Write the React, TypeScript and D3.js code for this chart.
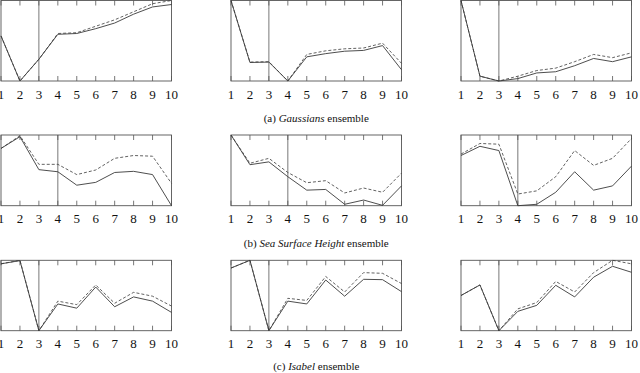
import React from "react";
import * as d3 from "d3";

const xTicks = [1, 2, 3, 4, 5, 6, 7, 8, 9, 10];

// Row (a) Gaussians
const gaussA_solid = [0.56, 0.0, 0.27, 0.58, 0.59, 0.65, 0.72, 0.83, 0.92, 0.95];
const gaussA_dashed = [0.56, 0.0, 0.27, 0.59, 0.6, 0.68, 0.76, 0.86, 0.96, 1.0];
const gaussB_solid = [1.0, 0.23, 0.235, 0.0, 0.3, 0.34, 0.37, 0.38, 0.44, 0.14];
const gaussB_dashed = [1.0, 0.235, 0.24, 0.0, 0.33, 0.375, 0.4, 0.41, 0.47, 0.22];
const gaussC_solid = [1.0, 0.06, 0.0, 0.03, 0.1, 0.115, 0.19, 0.28, 0.24, 0.3];
const gaussC_dashed = [1.0, 0.06, 0.0, 0.06, 0.13, 0.16, 0.24, 0.33, 0.29, 0.35];

// Row (b) Sea Surface Height
const sshA_solid = [0.81, 0.976, 0.51, 0.48, 0.29, 0.33, 0.47, 0.486, 0.44, 0.0];
const sshA_dashed = [0.81, 0.99, 0.585, 0.585, 0.44, 0.505, 0.67, 0.71, 0.7, 0.316];
const sshB_solid = [1.0, 0.58, 0.62, 0.41, 0.22, 0.23, 0.02, 0.08, 0.005, 0.28];
const sshB_dashed = [1.0, 0.6, 0.67, 0.47, 0.325, 0.354, 0.18, 0.25, 0.19, 0.46];
const sshC_solid = [0.71, 0.84, 0.78, 0.0, 0.02, 0.19, 0.48, 0.22, 0.28, 0.56];
const sshC_dashed = [0.73, 0.88, 0.87, 0.165, 0.21, 0.41, 0.78, 0.57, 0.67, 0.95];

// Row (c) Isabel
const isaA_solid = [0.95, 0.995, 0.0, 0.38, 0.32, 0.62, 0.34, 0.48, 0.42, 0.26];
const isaA_dashed = [0.95, 1.0, 0.0, 0.42, 0.37, 0.65, 0.39, 0.545, 0.49, 0.35];
const isaB_solid = [0.89, 1.0, 0.0, 0.42, 0.38, 0.72, 0.49, 0.73, 0.725, 0.555];
const isaB_dashed = [0.89, 1.0, 0.0, 0.46, 0.43, 0.77, 0.55, 0.825, 0.815, 0.67];
const isaC_solid = [0.5, 0.65, 0.0, 0.275, 0.36, 0.645, 0.48, 0.76, 0.915, 0.83];
const isaC_dashed = [0.5, 0.65, 0.0, 0.31, 0.4, 0.7, 0.55, 0.825, 1.0, 0.95];

const rowMarkers = [3, 4, 3];
const rowCaptionLabels = ["(a) ", "(b) ", "(c) "];
const rowCaptionItalic = ["Gaussians", "Sea Surface Height", "Isabel"];

const rows = [
  [
    [gaussA_solid, gaussA_dashed],
    [gaussB_solid, gaussB_dashed],
    [gaussC_solid, gaussC_dashed],
  ],
  [
    [sshA_solid, sshA_dashed],
    [sshB_solid, sshB_dashed],
    [sshC_solid, sshC_dashed],
  ],
  [
    [isaA_solid, isaA_dashed],
    [isaB_solid, isaB_dashed],
    [isaC_solid, isaC_dashed],
  ],
];

// layout
const panelLefts = [1, 231, 461];
const panelWidth = 170.5;
const rowTops = [0.5, 135, 260.3];
const rowBottoms = [81, 205.7, 330.7];
const rowLabelY = [98.8, 222.5, 348.2];
const rowCaptionY = [121.8, 246.8, 369.8];

const lineColor = "#3a3a3a";
const frameColor = "#555";
const serif = "Liberation Serif, DejaVu Serif, serif";

function Panel({ left, top, bottom, solid, dashed, marker, labelY }: any) {
  const x = d3.scaleLinear().domain([1, 10]).range([left, left + panelWidth]);
  const y = d3.scaleLinear().domain([0, 1]).range([bottom, top]);
  const line = d3
    .line<number>()
    .x((_, i) => x(xTicks[i]))
    .y((d) => y(d));
  const tickLen = 5;
  return (
    <g>
      <rect
        x={left}
        y={top}
        width={panelWidth}
        height={bottom - top}
        fill="none"
        stroke={frameColor}
        strokeWidth={0.9}
      />
      {xTicks.map((t) => (
        <g key={t}>
          <line x1={x(t)} x2={x(t)} y1={top} y2={top + tickLen} stroke={frameColor} strokeWidth={0.8} />
          <line x1={x(t)} x2={x(t)} y1={bottom} y2={bottom - tickLen} stroke={frameColor} strokeWidth={0.8} />
          <text
            x={x(t)}
            y={labelY}
            textAnchor="middle"
            style={{ fontFamily: serif, fontSize: "13px" }}
            fill="#111"
          >
            {t}
          </text>
        </g>
      ))}
      <line x1={x(marker)} x2={x(marker)} y1={top} y2={bottom} stroke={frameColor} strokeWidth={0.8} />
      <path d={line(dashed) || ""} fill="none" stroke={lineColor} strokeWidth={0.8} strokeDasharray="3,2" />
      <path d={line(solid) || ""} fill="none" stroke={lineColor} strokeWidth={0.9} />
    </g>
  );
}

export default function App() {
  return (
    <svg
      width={640}
      height={373}
      viewBox="0 0 640 373"
      style={{ position: "absolute", left: 0, top: 0, background: "#fff" }}
    >
      <rect x={0} y={0} width={640} height={373} fill="#fff" />
      {rows.map((row, r) => (
        <g key={r}>
          {row.map((pair, c) => (
            <Panel
              key={c}
              left={panelLefts[c]}
              top={rowTops[r]}
              bottom={rowBottoms[r]}
              solid={pair[0]}
              dashed={pair[1]}
              marker={rowMarkers[r]}
              labelY={rowLabelY[r]}
            />
          ))}
          <text
            x={panelLefts[1] + panelWidth / 2}
            y={rowCaptionY[r]}
            textAnchor="middle"
            style={{ fontFamily: serif, fontSize: "11px" }}
            fill="#111"
          >
            {rowCaptionLabels[r]}
            <tspan fontStyle="italic">{rowCaptionItalic[r]}</tspan>
            {" ensemble"}
          </text>
        </g>
      ))}
    </svg>
  );
}
